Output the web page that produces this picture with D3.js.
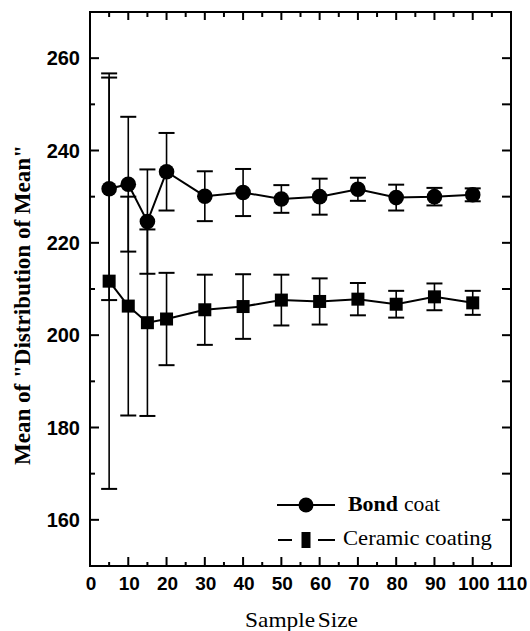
<!DOCTYPE html>
<html>
<head>
<meta charset="utf-8">
<script src="https://cdn.jsdelivr.net/npm/d3@7"></script>
<style>
  body { margin: 0; background: #fff; }
  svg { display: block; }
</style>
</head>
<body>
<div id="vis"></div>
<script>
// values
const sampleSize = [5, 10, 15, 20, 30, 40, 50, 60, 70, 80, 90, 100]
const bondMean = [231.7, 232.7, 224.6, 235.4, 230.1, 230.9, 229.5, 230.0, 231.6, 229.8, 230.0, 230.4]
const bondErr = [24.1, 14.6, 11.3, 8.4, 5.4, 5.1, 3.0, 3.9, 2.5, 2.8, 1.9, 1.4]
const ceramicMean = [211.7, 206.3, 202.7, 203.5, 205.5, 206.2, 207.6, 207.3, 207.8, 206.7, 208.3, 207.0]
const ceramicErr = [45.0, 23.7, 20.2, 10.0, 7.6, 7.0, 5.5, 5.0, 3.5, 2.9, 2.9, 2.6]

const xTicks = d3.range(0, 111, 10)
const yTicks = [160, 180, 200, 220, 240, 260]

const W = 530, H = 631
const plot = {left: 90, right: 511, top: 12, bottom: 566}

const x = d3.scaleLinear([0, 110], [plot.left, plot.right])
const y = d3.scaleLinear([150, 270], [plot.bottom, plot.top])

const svg = d3.select('#vis').append('svg')
    .attr('width', W)
    .attr('height', H)

const serif = '"Liberation Serif", "Times New Roman", serif'
const sans = '"Liberation Sans", Arial, sans-serif'

// nudge the glyph width to the measured width of the scan
function stretchText(sel, px, py, width, rotate){
    let natural = sel.node().getComputedTextLength()
    let sx = width / natural
    sel.attr('x', 0).attr('y', 0)
        .attr('transform', `translate(${px},${py})` + (rotate ? ` rotate(${rotate})` : '') + ` scale(${sx},1)`)
}

// frame
svg.append('rect')
    .attr('x', plot.left).attr('y', plot.top)
    .attr('width', plot.right - plot.left)
    .attr('height', plot.bottom - plot.top)
    .attr('fill', 'none').attr('stroke', '#000').attr('stroke-width', 2)

// ticks, all pointing inwards
let ticks = svg.append('g').attr('stroke', '#000').attr('stroke-width', 2)

d3.range(0, 111, 5).forEach(v => {
    let major = v % 10 === 0
    ticks.append('line')
        .attr('x1', x(v)).attr('x2', x(v))
        .attr('y1', plot.bottom).attr('y2', plot.bottom - (major ? 9 : 4))
    ticks.append('line')
        .attr('x1', x(v)).attr('x2', x(v))
        .attr('y1', plot.top).attr('y2', plot.top + (major ? 8 : 5))
})

d3.range(150, 271, 10).forEach(v => {
    let major = v % 20 === 0
    ticks.append('line')
        .attr('x1', plot.left).attr('x2', plot.left + (major ? 9 : 5))
        .attr('y1', y(v)).attr('y2', y(v))
    ticks.append('line')
        .attr('x1', plot.right).attr('x2', plot.right - 9)
        .attr('y1', y(v)).attr('y2', y(v))
})

// tick labels
svg.selectAll('.x-label')
    .data(xTicks).enter()
    .append('text')
        .attr('class', 'x-label')
        .attr('x', d => x(d) + 1)
        .attr('y', 590)
        .attr('text-anchor', 'middle')
        .attr('font-family', sans)
        .attr('font-weight', 'bold')
        .attr('font-size', 19)
        .text(d => d)

svg.selectAll('.y-label')
    .data(yTicks).enter()
    .append('text')
        .attr('class', 'y-label')
        .attr('x', 80)
        .attr('y', d => y(d))
        .attr('dy', '0.36em')
        .attr('text-anchor', 'end')
        .attr('font-family', sans)
        .attr('font-weight', 'bold')
        .attr('font-size', 20)
        .text(d => d)

// axis titles
let xTitle = svg.append('text')
    .attr('text-anchor', 'middle')
    .attr('font-family', serif)
    .attr('font-size', 22)
    .attr('word-spacing', -3)
    .text('Sample Size')
stretchText(xTitle, 301.5, 627, 113)

let yTitle = svg.append('text')
    .attr('text-anchor', 'middle')
    .attr('font-family', serif)
    .attr('font-weight', 'bold')
    .attr('font-size', 23)
    .text('Mean of "Distribution of Mean"')
stretchText(yTitle, 30, 305, 320, -90)

// series
const series = [
    {name: 'bond', mean: bondMean, err: bondErr, shape: 'circle'},
    {name: 'ceramic', mean: ceramicMean, err: ceramicErr, shape: 'square'}
]

const line = d3.line()
    .x(d => x(d.x))
    .y(d => y(d.m))

series.forEach(s => {
    let pts = sampleSize.map((v, i) => ({x: v, m: s.mean[i], e: s.err[i]}))
    let g = svg.append('g').attr('class', s.name)

    g.append('path')
        .datum(pts)
        .attr('d', line)
        .attr('fill', 'none')
        .attr('stroke', '#000')
        .attr('stroke-width', 2)

    let bars = g.selectAll('.err')
        .data(pts).enter()
        .append('g')
            .attr('class', 'err')
            .attr('stroke', '#000')

    bars.append('line')
        .attr('x1', d => x(d.x)).attr('x2', d => x(d.x))
        .attr('y1', d => y(d.m - d.e)).attr('y2', d => y(d.m + d.e))
        .attr('stroke-width', 1.6)
    bars.append('line')
        .attr('x1', d => x(d.x) - 8).attr('x2', d => x(d.x) + 8)
        .attr('y1', d => y(d.m + d.e)).attr('y2', d => y(d.m + d.e))
        .attr('stroke-width', 2)
    bars.append('line')
        .attr('x1', d => x(d.x) - 8).attr('x2', d => x(d.x) + 8)
        .attr('y1', d => y(d.m - d.e)).attr('y2', d => y(d.m - d.e))
        .attr('stroke-width', 2)

    if (s.shape === 'circle') {
        g.selectAll('.mark')
            .data(pts).enter()
            .append('circle')
                .attr('class', 'mark')
                .attr('cx', d => x(d.x))
                .attr('cy', d => y(d.m))
                .attr('r', 7.8)
                .attr('fill', '#000')
    } else {
        g.selectAll('.mark')
            .data(pts).enter()
            .append('rect')
                .attr('class', 'mark')
                .attr('x', d => x(d.x) - 6.5)
                .attr('y', d => y(d.m) - 6.5)
                .attr('width', 13)
                .attr('height', 13)
                .attr('fill', '#000')
    }
})

// legend
let legend = svg.append('g').attr('class', 'legend')

legend.append('line')
    .attr('x1', 277).attr('x2', 335).attr('y1', 505).attr('y2', 505)
    .attr('stroke', '#000').attr('stroke-width', 2)
legend.append('circle')
    .attr('cx', 306).attr('cy', 505).attr('r', 7.5)
let bondText = legend.append('text')
    .attr('font-family', serif).attr('font-weight', 'bold').attr('font-size', 22)
    .text('Bond')
stretchText(bondText, 348, 511, 50)
let coatText = legend.append('text')
    .attr('font-family', serif).attr('font-size', 22)
    .text('coat')
stretchText(coatText, 404, 511, 36)

legend.append('line')
    .attr('x1', 278).attr('x2', 292).attr('y1', 540).attr('y2', 540)
    .attr('stroke', '#000').attr('stroke-width', 2)
legend.append('line')
    .attr('x1', 318).attr('x2', 335).attr('y1', 540).attr('y2', 540)
    .attr('stroke', '#000').attr('stroke-width', 2)
legend.append('rect')
    .attr('x', 301.5).attr('y', 532).attr('width', 9).attr('height', 16)
let ceramicText = legend.append('text')
    .attr('font-family', serif).attr('font-size', 22)
    .text('Ceramic coating')
stretchText(ceramicText, 343, 545, 149)
</script>
</body>
</html>
